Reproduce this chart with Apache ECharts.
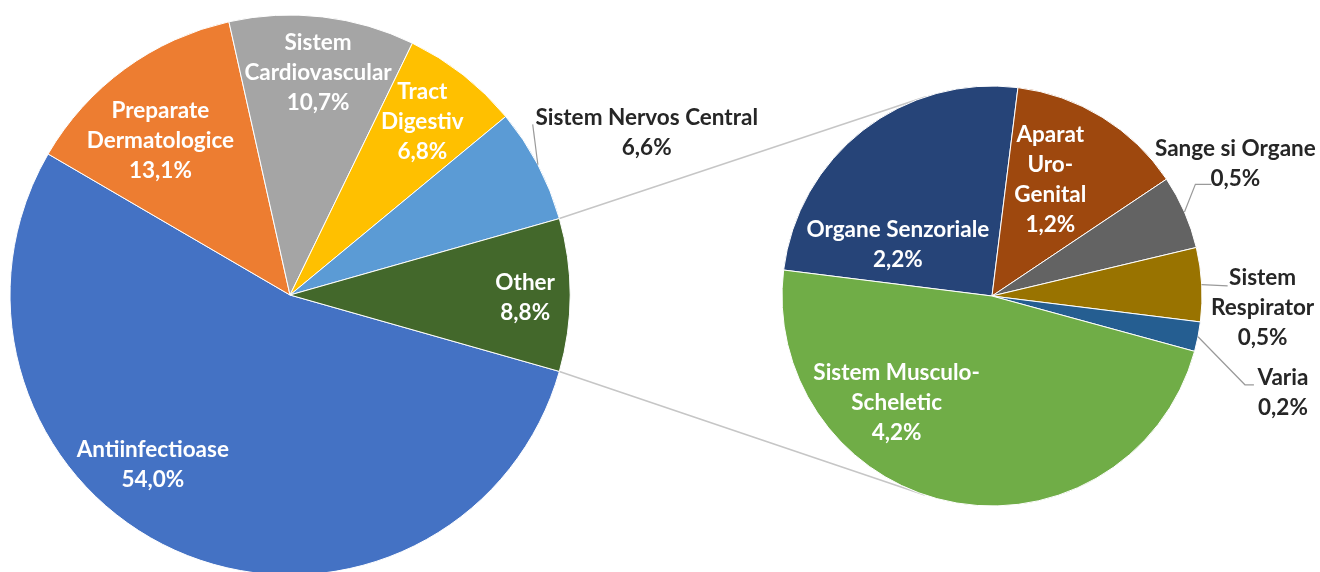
<!DOCTYPE html>
<html><head><meta charset="utf-8">
<script src="https://cdn.jsdelivr.net/npm/echarts@6/dist/echarts.min.js"></script>
<style>html,body{margin:0;padding:0;background:#fff}#c{width:1320px;height:572px}</style>
</head><body><div id="c"></div>
<script>
// ---- data ----
const mainCategories = ['Antiinfectioase','Preparate Dermatologice','Sistem Cardiovascular','Tract Digestiv','Sistem Nervos Central','Other'];
const mainValues = [54.0, 13.1, 10.7, 6.8, 6.6, 8.8];
const subCategories = ['Organe Senzoriale','Aparat Uro-Genital','Sange si Organe','Sistem Respirator','Varia','Sistem Musculo-Scheletic'];
const subValues = [2.2, 1.2, 0.5, 0.5, 0.2, 4.2];

// ---- styles / layout ----
const mainColors = ['#4472C4','#ED7D31','#A5A5A5','#FFC000','#5B9BD5','#43682B'];
const subColors  = ['#264478','#9E480E','#636363','#997300','#255E91','#70AD47'];
const wrapped = {
  'Preparate Dermatologice':'Preparate\nDermatologice',
  'Sistem Cardiovascular':'Sistem\nCardiovascular',
  'Tract Digestiv':'Tract\nDigestiv',
  'Aparat Uro-Genital':'Aparat\nUro-\nGenital',
  'Sistem Respirator':'Sistem\nRespirator',
  'Sistem Musculo-Scheletic':'Sistem Musculo-\nScheletic'
};
const MAIN = {cx:290, cy:295, r:280};
const SUB  = {cx:992, cy:296, r:210};
// label placement: [angle deg (math), radius fraction]
const mainLabelPolar = [[-128.9,0.78],[130,0.72],[82.8,0.80],[52.7,0.78],[24.5,1.40],[-0.7,0.84]];
const subLabelPolar  = [[151.5,0.51],[63.4,0.62],[28.6,1.32],[-2.5,1.29],[-18.4,1.46],[-131.9,0.68]];
// leader lines for outside labels: end offset from label centre, elbow length
const leaders = {
  'Sistem Nervos Central': {dx:-114, dy:-8, elbow:0},
  'Sange si Organe':       {dx:-24,  dy:21, elbow:16},
  'Sistem Respirator':     {dx:-35,  dy:-22, elbow:0},
  'Varia':                 {dx:-29,  dy:-8, elbow:9}
};
const FONT = 'Lato';
const FS = 22.5;

const fmt = v => v.toFixed(1).replace('.', ',') + '%';

function buildData(cats, vals, colors) {
  return cats.map((n, i) => {
    const out = !!leaders[n];
    return {
      name: n, value: vals[i],
      itemStyle: {color: colors[i]},
      label: {position: 'inside', color: out ? '#262626' : '#ffffff'}
    };
  });
}

function polarPt(geom, deg, frac) {
  const a = deg * Math.PI / 180;
  return [geom.cx + geom.r * frac * Math.cos(a), geom.cy - geom.r * frac * Math.sin(a)];
}

function layoutFor(geom, polar) {
  return function (p) {
    const pp = polarPt(geom, polar[p.dataIndex][0], polar[p.dataIndex][1]);
    return {x: pp[0], y: pp[1], align: 'center', verticalAlign: 'middle'};
  };
}

const labelBase = {
  show: true,
  formatter: p => (wrapped[p.name] || p.name) + '\n' + fmt(p.value),
  fontFamily: FONT, fontWeight: 'bold', fontSize: FS, lineHeight: 30, align: 'center'
};

// slice mid angles (math degrees) for leader starts
function midAngles(vals, start) {
  const tot = vals.reduce((a, b) => a + b, 0);
  let acc = start;
  return vals.map(v => { const d = v / tot * 360; const m = acc - d / 2; acc -= d; return m; });
}

const total = mainValues.reduce((a, b) => a + b, 0);
const otherDeg = mainValues[mainValues.length - 1] / total * 360;
const mainStart = -otherDeg / 2;
const subStart = 172.9;

const graphics = [];
// connector lines (tangents from "Other" slice edges to the secondary pie)
function tangentPoint(P, C, r, top) {
  const dx = P[0] - C.cx, dy = P[1] - C.cy;
  const d = Math.hypot(dx, dy);
  const phi = Math.atan2(dy, dx);
  const a = Math.acos(r / d);
  const pts = [phi + a, phi - a].map(t => [C.cx + r * Math.cos(t), C.cy + r * Math.sin(t)]);
  pts.sort((u, v) => u[1] - v[1]);
  return top ? pts[0] : pts[1];
}
const pTop = polarPt(MAIN, otherDeg / 2, 1);
const pBot = polarPt(MAIN, -otherDeg / 2, 1);
const tTop = tangentPoint(pTop, SUB, SUB.r, true);
const tBot = tangentPoint(pBot, SUB, SUB.r, false);
const connStyle = {stroke: '#c6c6c6', lineWidth: 1.6};
graphics.push({type: 'line', z: 0, shape: {x1: pTop[0], y1: pTop[1], x2: tTop[0], y2: tTop[1]}, style: connStyle});
graphics.push({type: 'line', z: 0, shape: {x1: pBot[0], y1: pBot[1], x2: tBot[0], y2: tBot[1]}, style: connStyle});

function addLeaders(cats, vals, start, geom, polar) {
  const mids = midAngles(vals, start);
  cats.forEach((n, i) => {
    const L = leaders[n];
    if (!L) return;
    const s = polarPt(geom, mids[i], 1);
    const c = polarPt(geom, polar[i][0], polar[i][1]);
    const e = [c[0] + L.dx, c[1] + L.dy];
    const pts = [s];
    if (L.elbow) pts.push([e[0] - L.elbow, e[1]]);
    pts.push(e);
    graphics.push({type: 'polyline', z: 100, shape: {points: pts}, style: {stroke: '#9a9a9a', lineWidth: 1.2, fill: null}});
  });
}
addLeaders(mainCategories, mainValues, mainStart, MAIN, mainLabelPolar);
addLeaders(subCategories, subValues, subStart, SUB, subLabelPolar);

const chart = echarts.init(document.getElementById('c'), null, {renderer: 'canvas'});
chart.setOption({
  animation: false,
  backgroundColor: '#ffffff',
  graphic: graphics,
  series: [
    {
      type: 'pie', z: 2,
      center: [MAIN.cx, MAIN.cy], radius: MAIN.r,
      startAngle: mainStart, clockwise: true,
      avoidLabelOverlap: false,
      itemStyle: {borderColor: '#ffffff', borderWidth: 1},
      label: labelBase,
      labelLine: {show: false},
      labelLayout: layoutFor(MAIN, mainLabelPolar),
      emphasis: {disabled: true},
      data: buildData(mainCategories, mainValues, mainColors)
    },
    {
      type: 'pie', z: 2,
      center: [SUB.cx, SUB.cy], radius: SUB.r,
      startAngle: subStart, clockwise: true,
      avoidLabelOverlap: false,
      itemStyle: {borderColor: '#ffffff', borderWidth: 1},
      label: labelBase,
      labelLine: {show: false},
      labelLayout: layoutFor(SUB, subLabelPolar),
      emphasis: {disabled: true},
      data: buildData(subCategories, subValues, subColors)
    }
  ]
});
</script>
</body></html>
